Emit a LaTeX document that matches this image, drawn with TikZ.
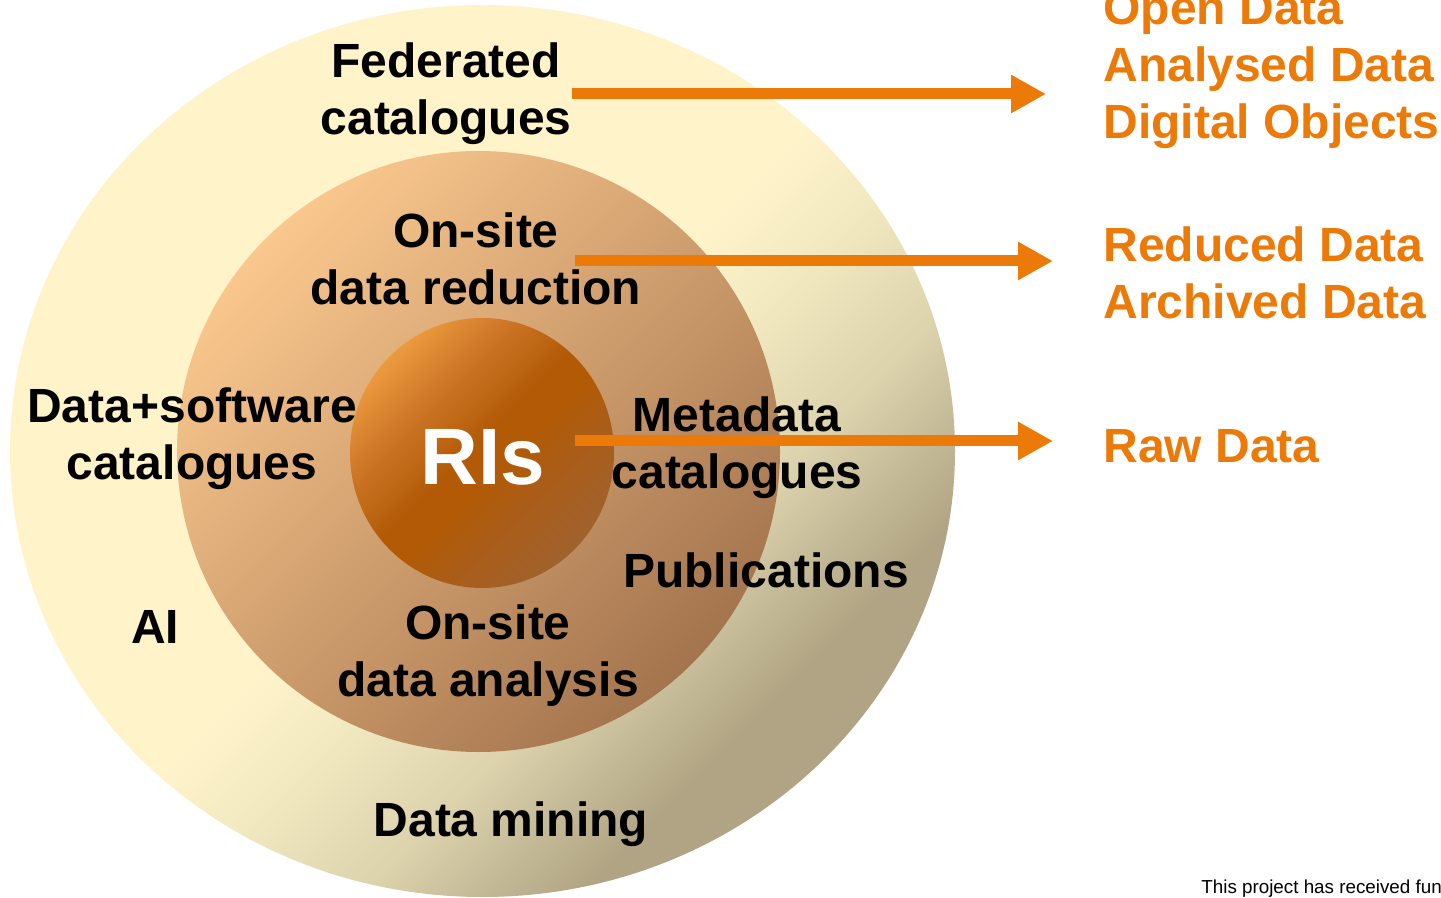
\documentclass[tikz,border=0pt]{standalone}
\usepackage{fontspec}
\setmainfont{Liberation Sans}
\usetikzlibrary{arrows.meta}
\definecolor{flowor}{RGB}{236,122,8}
\definecolor{outerlt}{RGB}{255,243,202}
\definecolor{outermd}{RGB}{243,234,194}
\definecolor{outertn}{RGB}{220,210,172}
\definecolor{outerdk}{RGB}{176,164,132}
\definecolor{midlt}{RGB}{250,200,142}
\definecolor{middk}{RGB}{164,116,78}
\definecolor{corelt}{RGB}{236,154,62}
\definecolor{coreor}{RGB}{204,118,38}
\definecolor{coremd}{RGB}{178,90,6}
\definecolor{corebr}{RGB}{168,94,30}
\definecolor{coredk}{RGB}{160,98,44}

% ring shadings, left to right = top-left to bottom-right after rotation
\pgfdeclarehorizontalshading{outershade}{100bp}{color(0bp)=(outerlt); color(50bp)=(outerlt);
    color(55bp)=(outermd); color(62.5bp)=(outertn); color(71bp)=(outerdk); color(100bp)=(outerdk)}
\pgfdeclarehorizontalshading{coreshade}{100bp}{color(0bp)=(corelt); color(25bp)=(corelt);
    color(36bp)=(coreor); color(48bp)=(coremd); color(54bp)=(coremd); color(65bp)=(corebr);
    color(75bp)=(coredk); color(100bp)=(coredk)}

\begin{document}
\begin{tikzpicture}[
        x=0.5pt, y=-0.5pt,
        lbl/.style={inner sep=0pt, align=center, font=\fontsize{24}{28.5}\selectfont\bfseries},
        outlbl/.style={lbl, align=left, text=flowor},
        flow/.style={draw=flowor, line width=5.5pt, -{Triangle[length=17.5pt, width=18pt]}}
    ]
        \useasboundingbox (0,0) rectangle (1441,898);

        % rings
        \shade[shading=outershade, shading angle=-45]
            (482.5,451) ellipse [x radius=236.25pt, y radius=223pt];
        \shade[top color=midlt, bottom color=middk, shading angle=45]
            (478.5,451.5) ellipse [x radius=150.75pt, y radius=150.25pt];
        \shade[shading=coreshade, shading angle=-45]
            (482,453) ellipse [x radius=66pt, y radius=67.5pt];

        \node[lbl] (fed) at (446,94) {Federated\\catalogues};
        \node[lbl] (reduc) at (476,259) {On-site\\data reduction};
        \node[lbl] (dsw) at (192,439) {Data+software\\catalogues};
        \node[lbl] (meta) at (737,448) {Metadata\\catalogues};
        \node[lbl, anchor=base] (pub) at (766,588) {Publications};
        \node[lbl, anchor=base] (ai) at (155,643) {AI};
        \node[lbl] (anal) at (488,656) {On-site\\data analysis};
        \node[lbl, anchor=base] (mining) at (511,836) {Data mining};
        \node[lbl, anchor=base, text=white, font=\fontsize{40}{40}\selectfont\bfseries] (ris) at (483,485) {RIs};

        \node[outlbl, anchor=west] (opendata) at (1103,70) {Open Data\\Analysed Data\\Digital Objects};
        \node[outlbl, anchor=west] (reddata) at (1103,273) {Reduced Data\\Archived Data};
        \node[outlbl, anchor=base west] (rawdata) at (1103,463) {Raw Data};

        \node[anchor=base west, inner sep=0pt, font=\fontsize{9.4}{11}\selectfont] (funding) at (1201,893) {This project has received fun};

        % arrows
        \coordinate (tip1) at (1046,94);
        \coordinate (tail2) at (575,261);
        \coordinate (tip2) at (1053,261);
        \coordinate (tail3) at (575,441);
        \coordinate (tip3) at (1053,441);
        \draw[flow] (fed.east) -- (tip1);
        \draw[flow] (tail2) -- (tip2);
        \draw[flow] (tail3) -- (tip3);
    \end{tikzpicture}
\end{document}
